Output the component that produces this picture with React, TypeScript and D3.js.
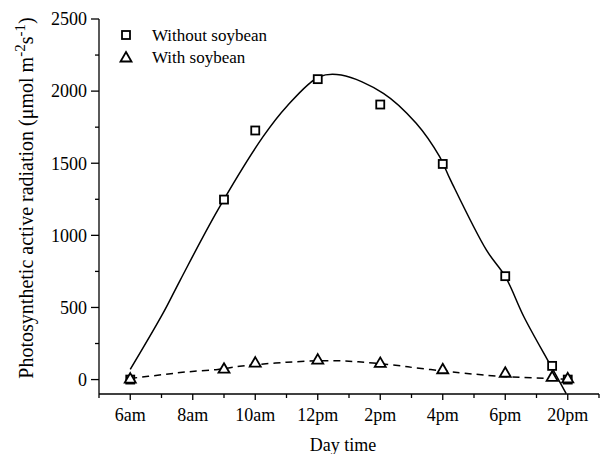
import React, { useRef, useEffect } from 'react';
import * as d3 from 'd3';

// measured points (hour of day)
const hours = [6, 9, 10, 12, 14, 16, 18, 19.5, 20];
const withoutSoybean = [0, 1248, 1727, 2083, 1907, 1495, 717, 95, 0];
const withSoybean = [3, 72, 114, 135, 112, 68, 44, 15, 5];

// fitted curves
const solidFitHours = [6, 7.05, 7.6, 8.8, 10.25, 11, 12.05, 12.75, 14.1, 15.15, 15.9, 16.25, 17.4, 18, 18.6, 19.45, 19.95];
const solidFit = [70, 460, 690, 1175, 1684, 1892, 2100, 2112, 1985, 1777, 1545, 1383, 897, 715, 434, 99, -97];
const dashedFitHours = [6, 7, 7.8, 8.8, 9.5, 10, 11, 12, 12.7, 13.3, 14, 14.7, 15.1, 16, 16.7, 17.9, 19.5, 20];
const dashedFit = [8, 33, 53, 70, 92, 103, 120, 130, 130, 123, 110, 94, 82, 60, 44, 22, 7, 3];

const xTickValues = [6, 8, 10, 12, 14, 16, 18, 20];
const xTickLabels = ['6am', '8am', '10am', '12pm', '2pm', '4pm', '6pm', '20pm'];
const xMinorTicks = [5, 7, 9, 11, 13, 15, 17, 19, 21];
const yTickValues = [0, 500, 1000, 1500, 2000, 2500];
const yMinorTicks = [250, 750, 1250, 1750, 2250];

const FONT = '"Liberation Serif", "Times New Roman", serif';

const App = () => {
  const svgRef = useRef<SVGSVGElement>(null);

  useEffect(() => {
    const svg = d3.select(svgRef.current);
    svg.selectAll('*').remove();

    const left = 99, right = 599, top = 19, bottom = 394;

    const x = d3.scaleLinear().domain([5, 21]).range([left, right]);
    const y = d3.scaleLinear().domain([-100, 2500]).range([bottom, top]);

    const g = svg.append('g').attr('font-family', FONT).attr('fill', '#000');

    // axes lines
    g.append('line').attr('x1', left).attr('x2', left).attr('y1', top).attr('y2', bottom)
      .attr('stroke', '#000').attr('stroke-width', 1.3);
    g.append('line').attr('x1', left).attr('x2', right).attr('y1', bottom).attr('y2', bottom)
      .attr('stroke', '#000').attr('stroke-width', 1.3);

    // y ticks
    yTickValues.forEach(v => {
      g.append('line').attr('x1', left - 8).attr('x2', left).attr('y1', y(v)).attr('y2', y(v))
        .attr('stroke', '#000').attr('stroke-width', 1.3);
      g.append('text').attr('x', left - 12).attr('y', y(v)).attr('dy', '0.35em')
        .attr('text-anchor', 'end').attr('font-size', 18).text(v);
    });
    yMinorTicks.forEach(v => {
      g.append('line').attr('x1', left - 4).attr('x2', left).attr('y1', y(v)).attr('y2', y(v))
        .attr('stroke', '#000').attr('stroke-width', 1.3);
    });

    // x ticks
    xTickValues.forEach((v, i) => {
      g.append('line').attr('x1', x(v)).attr('x2', x(v)).attr('y1', bottom).attr('y2', bottom + 6)
        .attr('stroke', '#000').attr('stroke-width', 1.3);
      g.append('text').attr('x', x(v)).attr('y', bottom + 27)
        .attr('text-anchor', 'middle').attr('font-size', 18).text(xTickLabels[i]);
    });
    xMinorTicks.forEach(v => {
      g.append('line').attr('x1', x(v)).attr('x2', x(v)).attr('y1', bottom).attr('y2', bottom + 4)
        .attr('stroke', '#000').attr('stroke-width', 1.3);
    });

    // axis titles
    g.append('text').attr('x', (left + right) / 2 - 6).attr('y', 451)
      .attr('text-anchor', 'middle').attr('font-size', 18).text('Day time');

    const yTitle = g.append('text')
      .attr('transform', 'translate(33,198) rotate(-90)')
      .attr('text-anchor', 'middle').attr('font-size', 20);
    yTitle.append('tspan').text('Photosynthetic active radiation (\u03bcmol m');
    yTitle.append('tspan').attr('font-size', 15).attr('dy', -8).text('-2');
    yTitle.append('tspan').attr('dy', 8).text('s');
    yTitle.append('tspan').attr('font-size', 15).attr('dy', -8).text('-1');
    yTitle.append('tspan').attr('dy', 8).text(')');

    // fitted curves
    const solidLine = d3.line<number>()
      .x((d, i) => x(solidFitHours[i]))
      .y(d => y(d))
      .curve(d3.curveCatmullRom.alpha(0.5));
    g.append('path').datum(solidFit).attr('d', solidLine)
      .attr('fill', 'none').attr('stroke', '#000').attr('stroke-width', 1.5);

    const dashedLine = d3.line<number>()
      .x((d, i) => x(dashedFitHours[i]))
      .y(d => y(d))
      .curve(d3.curveCatmullRom.alpha(0.5));
    g.append('path').datum(dashedFit).attr('d', dashedLine)
      .attr('fill', 'none').attr('stroke', '#000').attr('stroke-width', 1.5)
      .style('stroke-dasharray', '7, 5');

    const squareAt = (cx: number, cy: number) => {
      g.append('rect').attr('x', cx - 4).attr('y', cy - 4).attr('width', 8).attr('height', 8)
        .attr('fill', '#fff').attr('stroke', '#000').attr('stroke-width', 1.8);
    };
    const triangleAt = (cx: number, cy: number) => {
      const p = d3.path();
      p.moveTo(cx, cy - 6);
      p.lineTo(cx + 5.5, cy + 3.5);
      p.lineTo(cx - 5.5, cy + 3.5);
      p.closePath();
      g.append('path').attr('d', p.toString())
        .attr('fill', '#fff').attr('stroke', '#000').attr('stroke-width', 1.8);
    };

    hours.forEach((h, i) => squareAt(x(h), y(withoutSoybean[i])));
    hours.forEach((h, i) => triangleAt(x(h), y(withSoybean[i])));

    // legend
    squareAt(126, 35);
    g.append('text').attr('x', 152).attr('y', 41).attr('font-size', 17).text('Without soybean');
    triangleAt(126, 58);
    g.append('text').attr('x', 152).attr('y', 63).attr('font-size', 17).text('With soybean');
  }, []);

  return (
    <svg ref={svgRef} width={600} height={454}
      style={{ position: 'absolute', left: 0, top: 0, background: '#fff' }} />
  );
};

export default App;
